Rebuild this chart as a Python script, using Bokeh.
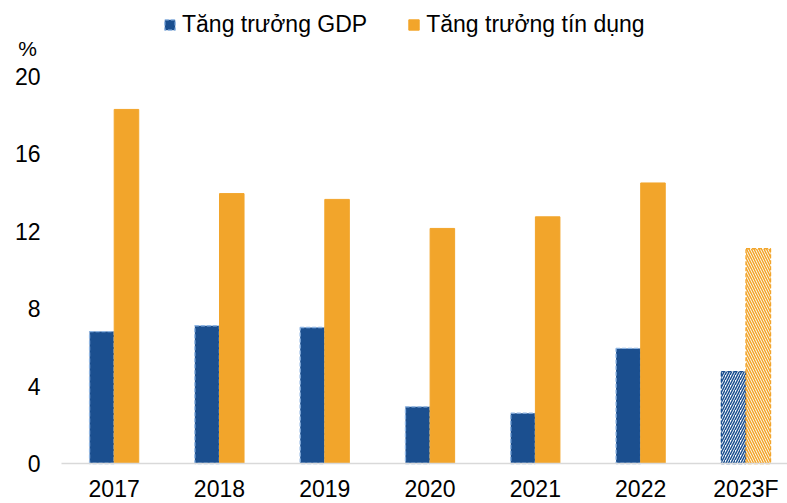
from bokeh.plotting import figure
from bokeh.models import (ColumnDataSource, Range1d, FixedTicker, Legend, LegendItem, Label)
from bokeh.transform import dodge
from bokeh.embed import file_html
from bokeh.resources import INLINE

years = ["2017", "2018", "2019", "2020", "2021", "2022", "2023F"]
gdp = [6.82, 7.12, 7.03, 2.93, 2.6, 5.95, 4.75]
credit = [18.3, 13.95, 13.65, 12.15, 12.75, 14.5, 11.1]
y_ticks = [0, 4, 8, 12, 16, 20]
n_actual = 6

FONT = "Liberation Sans"
BLUE = "#1B4F8F"
BLUE_EDGE = "#8DB4E2"
ORANGE = "#F2A52B"

idx = list(range(len(years)))
src_act = ColumnDataSource(dict(i=idx[:n_actual], gdp=gdp[:n_actual], credit=credit[:n_actual]))
src_fc = ColumnDataSource(dict(i=idx[n_actual:], gdp=gdp[n_actual:], credit=credit[n_actual:]))

# frame fills the whole canvas; axes are pinned with fixed_location
p = figure(width=787, height=503, output_backend="svg", toolbar_location=None,
           x_range=Range1d(-1.0793, 6.3946), y_range=Range1d(-2.067, 23.93),
           min_border_left=0, min_border_right=0, min_border_top=0, min_border_bottom=0)
p.outline_line_color = None
p.background_fill_color = "white"
p.border_fill_color = "white"
p.xgrid.visible = False
p.ygrid.visible = False

W = 0.233
OFF = 0.117
r_gdp = p.vbar(x=dodge("i", -OFF), top="gdp", width=W, source=src_act,
               fill_color=BLUE, line_color=BLUE_EDGE, line_width=1.3, line_dash="4 2")
r_cr = p.vbar(x=dodge("i", OFF), top="credit", width=W, source=src_act,
              fill_color=ORANGE, line_color=ORANGE, line_width=1)
p.vbar(x=dodge("i", -OFF), top="gdp", width=W, source=src_fc,
       fill_color="white", hatch_pattern="right_diagonal_line", hatch_color=BLUE,
       hatch_weight=1.5, hatch_scale=5, line_color=BLUE, line_width=1.3, line_dash="4 2")
p.vbar(x=dodge("i", OFF), top="credit", width=W, source=src_fc,
       fill_color="white", hatch_pattern="left_diagonal_line", hatch_color=ORANGE,
       hatch_weight=1.5, hatch_scale=5, line_color=ORANGE, line_width=1.3, line_dash="4 2")

# x axis
xa = p.xaxis[0]
xa.fixed_location = 0
xa.bounds = (-0.5, 6.3946)
xa.ticker = FixedTicker(ticks=idx)
xa.major_label_overrides = {i: y for i, y in zip(idx, years)}
xa.axis_line_color = "#D9D9D9"
xa.axis_line_width = 1.5
xa.major_tick_line_color = None
xa.minor_tick_line_color = None
xa.major_tick_out = 0
xa.major_tick_in = 0
xa.major_label_text_font = FONT
xa.major_label_text_font_size = "23px"
xa.major_label_text_color = "#000000"
xa.major_label_standoff = 12

ya = p.yaxis[0]
ya.fixed_location = -0.5
ya.ticker = FixedTicker(ticks=y_ticks)
ya.axis_line_color = None
ya.major_tick_line_color = None
ya.minor_tick_line_color = None
ya.major_tick_out = 0
ya.major_tick_in = 0
ya.major_label_text_font = FONT
ya.major_label_text_font_size = "23px"
ya.major_label_text_color = "#000000"
ya.major_label_standoff = 21

p.add_layout(Label(x=-0.823, y=21.45, text="%", text_align="center", text_baseline="middle",
                   text_font=FONT, text_font_size="21px", text_color="#000000"))

legend = Legend(items=[LegendItem(label="Tăng trưởng GDP", renderers=[r_gdp]),
                       LegendItem(label="Tăng trưởng tín dụng", renderers=[r_cr])],
                location=(163, 465), orientation="horizontal",
                label_text_font=FONT, label_text_font_size="23px", label_text_color="#000000",
                glyph_width=13, glyph_height=13, label_standoff=6, spacing=40,
                padding=0, margin=0, border_line_color=None, background_fill_alpha=0)
p.add_layout(legend, "center")

open("out.html", "w").write(file_html(p, INLINE))
